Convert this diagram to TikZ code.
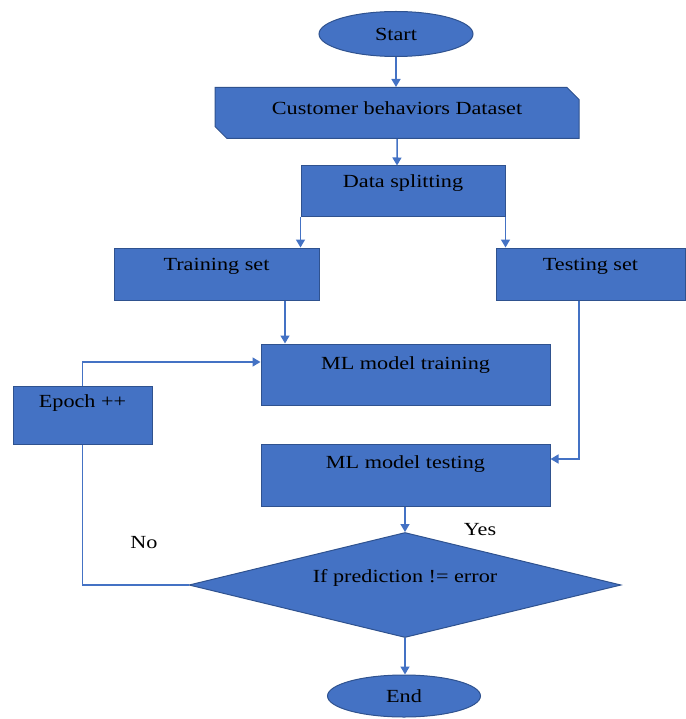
\documentclass[tikz,border=0pt]{standalone}
\usepackage{fontspec}
\setmainfont{Liberation Serif}[FakeStretch=1.2]
\usetikzlibrary{arrows.meta}
\usetikzlibrary{shapes.geometric,shapes.misc}
\definecolor{boxFill}{HTML}{4472C4}
\definecolor{boxEdge}{HTML}{2F528F}
\colorlet{lineColor}{boxFill}
\tikzset{>={Triangle[length=8pt,width=9pt]},
  flowbox/.style={draw=boxEdge,fill=boxFill,line width=1pt,inner sep=0pt,
    font=\fontsize{18.5pt}{22pt}\selectfont,text height=14pt},
  procbox/.style={flowbox,rectangle},
  termbox/.style={flowbox,ellipse,text depth=1pt},
  flowline/.style={lineColor,line width=1.5pt},
  edgelabel/.style={anchor=base,font=\fontsize{18.5pt}{22pt}\selectfont}}

\begin{document}
\begin{tikzpicture}[x=1pt,y=-1pt]
    \useasboundingbox (0,0) rectangle (685,719);

    \node[termbox,minimum width=154pt,minimum height=45pt] (start) at (396,34) {Start};
    \node[flowbox,chamfered rectangle,chamfered rectangle corners={north east,south west},
      chamfered rectangle xsep=6pt,chamfered rectangle ysep=6pt,
      minimum width=364pt,minimum height=51pt,text depth=11pt] (dataset) at (397,113) {Customer behaviors Dataset};
    \node[procbox,minimum width=204pt,minimum height=51pt,text depth=21pt] (split) at (403,191.5) {Data splitting};
    \node[procbox,minimum width=205pt,minimum height=52pt,text depth=22pt] (train) at (216.5,274) {Training set};
    \node[procbox,minimum width=189pt,minimum height=52pt,text depth=22pt] (test) at (590.5,274) {Testing set};
    \node[procbox,minimum width=289pt,minimum height=61pt,text depth=25pt] (mltrain) at (405.5,374.5) {ML model training};
    \node[procbox,minimum width=139pt,minimum height=58pt,text depth=30pt] (epoch) at (82.5,415) {Epoch ++};
    \node[procbox,minimum width=289pt,minimum height=62pt,text depth=28pt] (mltest) at (405.5,475) {ML model testing};
    \node[flowbox,diamond,shape aspect=4.1,minimum width=432pt,minimum height=105pt,text depth=20pt] (decide) at (405,585) {If prediction != error};
    \node[termbox,minimum width=153pt,minimum height=42pt] (stop) at (404,696) {End};

    \node[edgelabel] (yes) at (480,535) {Yes};
    \node[edgelabel] (no) at (144,548) {No};

    \draw[flowline,->] (start) -- (start |- dataset.north);
    \draw[flowline,->] (dataset) -- (dataset |- split.north);
    \draw[flowline,->] (split.south west) -- (split.south west |- train.north);
    \draw[flowline,->] (split.south east) -- (split.south east |- test.north);
    \draw[flowline,->] ([xshift=68.5pt]train.south) -- ([xshift=68.5pt]train.south |- mltrain.north);
    \draw[flowline,->] (epoch.north) |- ([yshift=12.5pt]mltrain.west);
    \draw[flowline,->] ([xshift=-11.5pt]test.south) |- ([yshift=16pt]mltest.east);
    \draw[flowline,->] (decide.north |- mltest.south) -- (decide.north);
    \draw[flowline] (decide.west) -| (epoch.south);
    \draw[flowline,->] (decide.south) -- (decide.south |- stop.north);
  \end{tikzpicture}
\end{document}
